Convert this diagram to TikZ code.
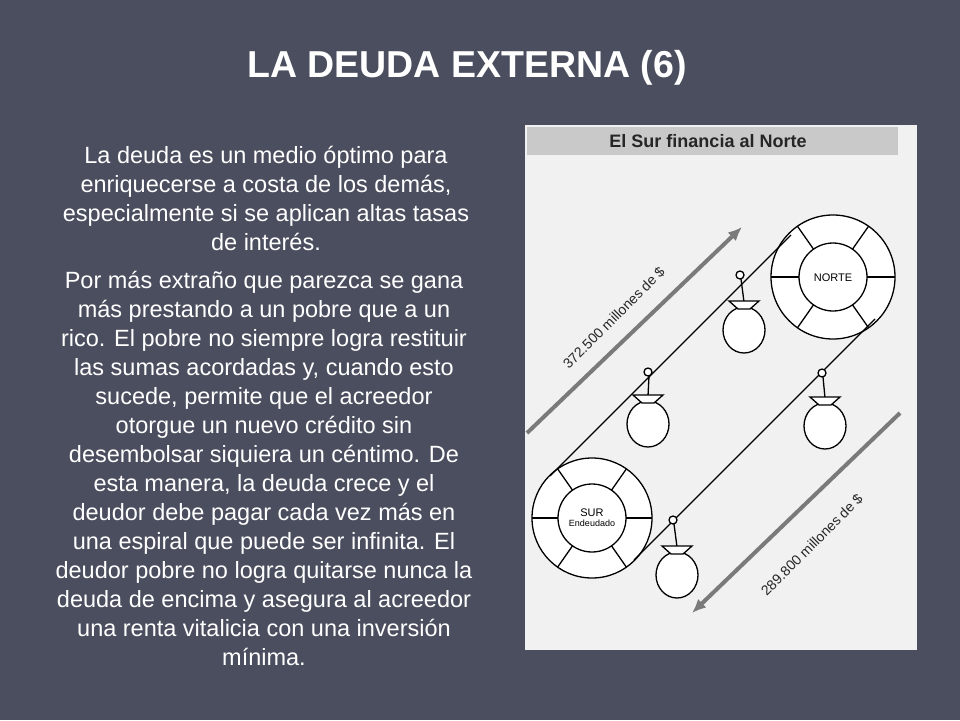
\documentclass[tikz,border=0pt]{standalone}
\usepackage{fontspec}
\setmainfont{Liberation Sans}
\usetikzlibrary{arrows.meta,calc}
\definecolor{slide}{HTML}{4B4E5E}
\definecolor{paper}{HTML}{F1F1F1}
\definecolor{band}{HTML}{C9C9C9}
\definecolor{arr}{HTML}{7A7A7A}
\begin{document}
\begin{tikzpicture}[x=1pt,y=-1pt,
  body/.style={text=white,align=center,font=\fontsize{23.5}{29}\selectfont},
  ink/.style={line width=1.3pt,black},
  bigarrow/.style={line width=4pt,arr,-{Latex[length=14pt,width=12pt]}},
  lab/.style={font=\fontsize{14}{16}\selectfont,rotate=45,text=black!85}]
\fill[slide] (0,0) rectangle (960,720);
\useasboundingbox (0,0) rectangle (960,720);
\node[text=white,font=\bfseries\fontsize{37.5}{40}\selectfont] (title) at (467,68) {LA DEUDA EXTERNA (6)};
\node[body,anchor=north] (p1) at (266,143) {La deuda es un medio óptimo para\\enriquecerse a costa de los demás,\\especialmente si se aplican altas tasas\\de interés.};
\node[body,anchor=north] (p2) at (264,268) {Por más extraño que parezca se gana\\más prestando a un pobre que a un\\rico. El pobre no siempre logra restituir\\las sumas acordadas y, cuando esto\\sucede, permite que el acreedor\\otorgue un nuevo crédito sin\\desembolsar siquiera un céntimo. De\\esta manera, la deuda crece y el\\deudor debe pagar cada vez más en\\una espiral que puede ser infinita. El\\deudor pobre no logra quitarse nunca la\\deuda de encima y asegura al acreedor\\una renta vitalicia con una inversión\\mínima.};
% panel
\fill[paper] (525,125) rectangle (917,650);
\fill[band] (527,127) rectangle (898,155);
\node[font=\bfseries\fontsize{18}{20}\selectfont,text=black!85] (hdr) at (708,141) {El Sur financia al Norte};
% wheels
\foreach \cx/\cy/\ro in {833/277/62,592/518/60}{
  \draw[ink,fill=white] (\cx,\cy) circle (\ro);
  \draw[ink] (\cx,\cy) circle (34);
  \foreach \a in {0,180,55,125,235,305}
    \draw[ink] ($(\cx,\cy)+(\a:34)$) -- ($(\cx,\cy)+(\a:\ro)$);
}
\node[font=\fontsize{11}{12}\selectfont] (norte) at (833,278) {NORTE};
\node[font=\fontsize{11}{12}\selectfont,align=center] (sur) at (592,518) {SUR\\[-2pt]{\fontsize{9}{10}\selectfont Endeudado}};
% belt
\coordinate (u1) at (550,476); \coordinate (u2) at (791,235);
\coordinate (l1) at (634,560); \coordinate (l2) at (875,319);
\draw[ink] (u1) -- (u2);
\draw[ink] (l1) -- (l2);
% bags
\foreach \rx/\ry/\bx/\by in {740/275/744/330, 648/372/648/424, 822/373/825/426, 673/520/677/575}{
  \draw[ink,fill=white] (\rx,\ry) circle (4);
  \draw[ink] (\rx+1,\ry+4) -- (\bx,\by-28);
  \draw[ink,fill=white] (\bx,\by) ellipse (21 and 23);
  \draw[ink,fill=white] (\bx-15,\by-29) -- (\bx+15,\by-29) -- (\bx+6,\by-21) -- (\bx-6,\by-21) -- cycle;
}
% arrows
\coordinate (a1) at (527,433); \coordinate (a2) at (742,227);
\coordinate (b1) at (900,413); \coordinate (b2) at (692,613);
\draw[bigarrow] (a1) -- (a2);
\draw[bigarrow] (b1) -- (b2);
\node[lab] (l372) at (614,318) {372.500 millones de \$};
\node[lab] (l289) at (812,545) {289.800 millones de \$};
\end{tikzpicture}
\end{document}
